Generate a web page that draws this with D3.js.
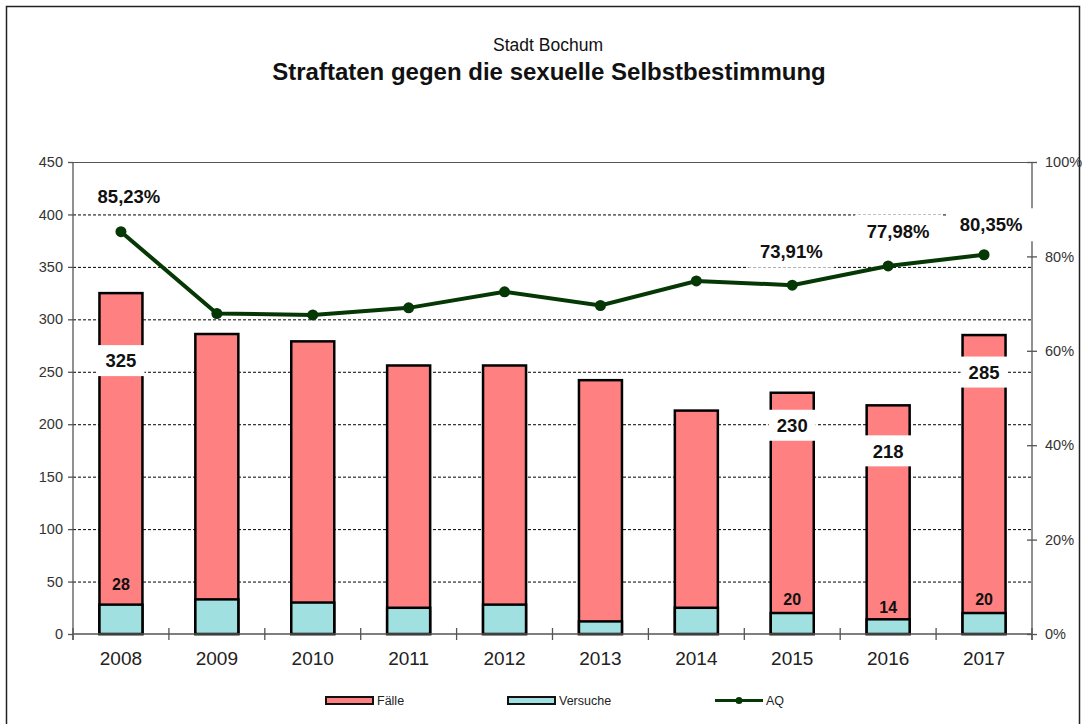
<!DOCTYPE html>
<meta charset="utf-8">
<style>

body {
  margin: 0;
  background: #fff;
}

text {
  font-family: "Liberation Sans", Arial, sans-serif;
}

.grid line {
  stroke: #000;
  stroke-width: 1px;
  stroke-dasharray: 3,2;
}

.bar {
  stroke: #000;
  stroke-width: 2.5px;
}

</style>
<svg width="1086" height="724"></svg>
<script src="https://cdn.jsdelivr.net/npm/d3@7"></script>
<script>

var years = ["2008", "2009", "2010", "2011", "2012", "2013", "2014", "2015", "2016", "2017"];
var faelle = [325, 286, 279, 256, 256, 242, 213, 230, 218, 285];
var versuche = [28, 33, 30, 25, 28, 12, 25, 20, 14, 20];
var aq = [85.23, 67.9, 67.6, 69.1, 72.5, 69.6, 74.8, 73.91, 77.98, 80.35];
var labelYears = ["2008", "2015", "2016", "2017"];
var leftTicks = [0, 50, 100, 150, 200, 250, 300, 350, 400, 450];
var rightTicks = [0, 20, 40, 60, 80, 100];

var svg = d3.select("svg"),
    width = +svg.attr("width"),
    height = +svg.attr("height");

var pLeft = 73, pRight = 1032, pTop = 162, pBottom = 634;

var x = d3.scaleBand().domain(years).range([pLeft, pRight]);
var y = d3.scaleLinear().domain([0, 450]).range([pBottom, pTop]);
var y2 = d3.scaleLinear().domain([0, 100]).range([pBottom, pTop]);
var barW = 43;

var fmt = function(v) { return v.toFixed(2).replace(".", ","); };

var data = years.map(function(d, i) {
  return {year: d, f: faelle[i], v: versuche[i], aq: aq[i]};
});

// outer frame
svg.append("rect")
    .attr("x", 6.5).attr("y", 6.5)
    .attr("width", 1073).attr("height", 760)
    .attr("fill", "none")
    .attr("stroke", "#222")
    .attr("stroke-width", 1.5);

// titles
svg.append("text")
    .attr("x", 548).attr("y", 51)
    .attr("text-anchor", "middle")
    .style("font-size", "17.5px")
    .style("fill", "#111")
    .text("Stadt Bochum");

svg.append("text")
    .attr("x", 549).attr("y", 80)
    .attr("text-anchor", "middle")
    .style("font-size", "24px")
    .style("font-weight", "bold")
    .style("fill", "#111")
    .text("Straftaten gegen die sexuelle Selbstbestimmung");

// grid
svg.append("g")
    .attr("class", "grid")
  .selectAll("line")
  .data(leftTicks.filter(function(d) { return d > 0 && d < 450; }))
  .enter().append("line")
    .attr("x1", pLeft).attr("x2", pRight)
    .attr("y1", function(d) { return y(d) + 0.5; })
    .attr("y2", function(d) { return y(d) + 0.5; });

svg.append("line")
    .attr("x1", pLeft).attr("x2", pRight)
    .attr("y1", pTop + 0.5).attr("y2", pTop + 0.5)
    .attr("stroke", "#555").attr("stroke-width", 1.2);

// bars
svg.selectAll(".bar.f")
  .data(data)
  .enter().append("rect")
    .attr("class", "bar f")
    .attr("x", function(d) { return x(d.year) + (x.bandwidth() - barW) / 2; })
    .attr("width", barW)
    .attr("y", function(d) { return y(d.f); })
    .attr("height", function(d) { return y(0) - y(d.f); })
    .attr("fill", "#ff8080");

svg.selectAll(".bar.v")
  .data(data)
  .enter().append("rect")
    .attr("class", "bar v")
    .attr("x", function(d) { return x(d.year) + (x.bandwidth() - barW) / 2; })
    .attr("width", barW)
    .attr("y", function(d) { return y(d.v); })
    .attr("height", function(d) { return y(0) - y(d.v); })
    .attr("fill", "#a0e0e0");

// axes
var axisColor = "#555";

var gl = svg.append("g")
    .attr("transform", "translate(" + pLeft + ",0)")
    .call(d3.axisLeft(y).tickValues(leftTicks).tickSize(5).tickPadding(5));
gl.select(".domain").remove();
gl.append("line").attr("y1", pTop).attr("y2", pBottom + 6);

var gr = svg.append("g")
    .attr("transform", "translate(" + pRight + ",0)")
    .call(d3.axisRight(y2).tickValues(rightTicks).tickSize(5).tickPadding(8)
      .tickFormat(function(d) { return d + "%"; }));
gr.select(".domain").remove();
gr.append("line").attr("y1", pTop).attr("y2", pBottom + 6);
gr.selectAll(".tick line").attr("x1", -5);

var gb = svg.append("g")
    .attr("transform", "translate(0," + pBottom + ")");
gb.append("line").attr("x1", pLeft).attr("x2", pRight);
gb.selectAll(".sep")
  .data(years.concat(["end"]))
  .enter().append("line")
    .attr("class", "sep")
    .attr("x1", function(d, i) { return pLeft + i * x.bandwidth(); })
    .attr("x2", function(d, i) { return pLeft + i * x.bandwidth(); })
    .attr("y1", -6).attr("y2", 6);
gb.selectAll(".lab")
  .data(years)
  .enter().append("text")
    .attr("class", "lab")
    .attr("x", function(d) { return x(d) + x.bandwidth() / 2; })
    .attr("y", 31)
    .attr("text-anchor", "middle")
    .style("font-size", "19px")
    .style("fill", "#222")
    .text(function(d) { return d; });

[gl, gr, gb].forEach(function(g) {
  g.selectAll("line").attr("stroke", axisColor).attr("stroke-width", 1.3);
  g.selectAll(".tick text").style("font-size", "14.5px").style("fill", "#333")
    .style("font-family", "\"Liberation Sans\", Arial, sans-serif");
});

// AQ line
var cx = function(d) { return x(d.year) + x.bandwidth() / 2; };

svg.append("path")
    .datum(data)
    .attr("fill", "none")
    .attr("stroke", "#053805")
    .attr("stroke-width", 4)
    .attr("d", d3.line().x(cx).y(function(d) { return y2(d.aq); }));

svg.selectAll(".dot")
  .data(data)
  .enter().append("circle")
    .attr("class", "dot")
    .attr("cx", cx)
    .attr("cy", function(d) { return y2(d.aq); })
    .attr("r", 5.5)
    .attr("fill", "#053805");

// labels with white boxes
function boxLabel(px, py, txt, size, w, h) {
  svg.append("rect")
      .attr("x", px - w / 2).attr("y", py - h / 2)
      .attr("width", w).attr("height", h)
      .attr("fill", "#fff");
  svg.append("text")
      .attr("x", px).attr("y", py)
      .attr("dy", "0.36em")
      .attr("text-anchor", "middle")
      .style("font-size", size)
      .style("font-weight", "bold")
      .style("fill", "#111")
      .text(txt);
}

var pctOffset = {"2008": [8, -35], "2015": [-1, -34], "2016": [10, -35], "2017": [7, -30]};
var fDrop = {"2008": 67.5, "2015": 32.5, "2016": 45.5, "2017": 37};
var vRise = {"2008": 20, "2015": 14, "2016": 12, "2017": 14};

data.filter(function(d) { return labelYears.indexOf(d.year) >= 0; }).forEach(function(d) {
  var o = pctOffset[d.year];
  boxLabel(cx(d) + o[0], y2(d.aq) + o[1], fmt(d.aq) + "%", "18.5px", 86, 33);
  boxLabel(cx(d), y(d.f) + fDrop[d.year], d.f, "18.5px", 47, 31);
  svg.append("text")
      .attr("x", cx(d)).attr("y", y(d.v) - vRise[d.year])
      .attr("dy", "0.36em")
      .attr("text-anchor", "middle")
      .style("font-size", "16px")
      .style("font-weight", "bold")
      .style("fill", "#111")
      .text(d.v);
});

// legend
var legend = [
  {name: "Fälle", x: 326, fill: "#ff8080"},
  {name: "Versuche", x: 508, fill: "#a0e0e0"},
  {name: "AQ", x: 715, line: true}
];

legend.forEach(function(l) {
  if (l.line) {
    svg.append("line")
        .attr("x1", l.x).attr("x2", l.x + 48)
        .attr("y1", 700.5).attr("y2", 700.5)
        .attr("stroke", "#053805").attr("stroke-width", 3);
    svg.append("circle")
        .attr("cx", l.x + 24).attr("cy", 700.5).attr("r", 3.5)
        .attr("fill", "#053805");
  } else {
    svg.append("rect")
        .attr("x", l.x).attr("y", 697)
        .attr("width", 47).attr("height", 7)
        .attr("fill", l.fill)
        .attr("stroke", "#111").attr("stroke-width", 2);
  }
  svg.append("text")
      .attr("x", l.x + 51).attr("y", 705)
      .style("font-size", "12.5px")
      .style("fill", "#222")
      .text(l.name);
});

</script>
